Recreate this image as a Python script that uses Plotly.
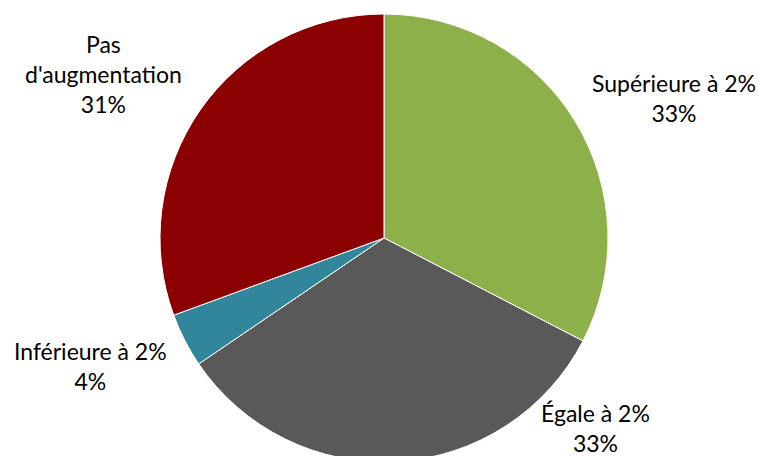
import plotly.graph_objects as go

categories = ["Supérieure à 2%", "Égale à 2%", "Inférieure à 2%", "Pas d'augmentation"]
values = [32.6, 32.9, 3.9, 30.6]
colors = ["#8DB04B", "#595959", "#31869B", "#8B0000"]
# label display (wrapped as in the reference)
display_names = ["Supérieure à 2%", "Égale à 2%", "Inférieure à 2%", "Pas<br>d'augmentation"]
# label anchor positions in pixels (x center, y center of the text block)
label_px = [(674, 98), (595, 428), (90, 366), (103, 74)]

W, H = 758, 476
MT, MB = 14, 14
PH = H - MT - MB

total = sum(values)
fig = go.Figure(go.Pie(
    labels=categories,
    values=values,
    marker=dict(colors=colors, line=dict(color="white", width=1)),
    sort=False,
    direction="clockwise",
    rotation=0,
    textinfo="none",
    hoverinfo="label+percent",
    domain=dict(x=[0.01319, 1.0], y=[0, 1]),
    showlegend=False,
))

for name, v, (px, py) in zip(display_names, values, label_px):
    pct = round(v / total * 100)
    fig.add_annotation(
        text=f"{name}<br>{pct}%",
        x=px / W, y=(H - MB - py) / PH,
        xref="paper", yref="paper",
        xanchor="center", yanchor="middle",
        showarrow=False, align="center",
        font=dict(family="Lato, Liberation Sans, sans-serif", size=23, color="#000000"),
    )

fig.update_layout(
    width=W, height=H,
    margin=dict(l=0, r=0, t=MT, b=MB),
    paper_bgcolor="white", plot_bgcolor="white",
)

fig.write_html(
    "out.html",
    config={"displayModeBar": False},
    post_script="document.documentElement.style.overflow='hidden';document.body.style.overflow='hidden';document.body.style.margin='0';",
)
